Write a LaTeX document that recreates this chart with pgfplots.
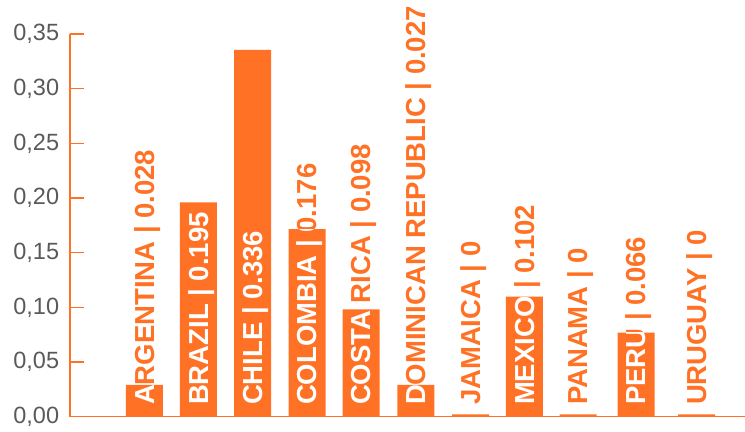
\documentclass[border=0pt]{standalone}
\usepackage{pgfplots}
\pgfplotsset{compat=1.18}
\usepackage{fontspec}
\setmainfont{Liberation Sans}
\definecolor{barorange}{HTML}{FF7225}
\definecolor{tickgrey}{HTML}{5A5A5A}
\newcommand\labfont{\fontsize{27.5bp}{30bp}\selectfont\bfseries}
% \barlabel{x}{bar value}{text}
\newcommand\barlabel[3]{%
  \node[rotate=90,anchor=base west,inner sep=0pt,text=barorange,font=\labfont]
    at ([xshift=9.85bp,yshift=11.5bp]axis cs:#1,0) {#3};
  \begin{scope}
    \clip ([xshift=-18.5bp]axis cs:#1,0) rectangle ([xshift=18.5bp]axis cs:#1,#2);
    \node[rotate=90,anchor=base west,inner sep=0pt,text=white,font=\labfont]
      at ([xshift=9.85bp,yshift=11.5bp]axis cs:#1,0) {#3};
  \end{scope}}
\begin{document}
\begin{tikzpicture}
\path[use as bounding box] (0,0) rectangle (745bp,432bp);
\begin{axis}[
  at={(70bp,15.3bp)}, anchor=south west,
  scale only axis, width=675bp, height=382.7bp,
  xmin=70, xmax=745, ymin=0, ymax=0.35,
  axis lines*=left,
  axis line style={barorange, line width=1.3bp},
  xtick=\empty,
  ytick={0,0.05,0.10,0.15,0.20,0.25,0.30,0.35},
  tick align=inside,
  major tick length=14bp,
  ytick style={barorange, line width=1.3bp},
  yticklabel style={font=\fontsize{23.5bp}{25bp}\selectfont, text=tickgrey, inner sep=0pt, xshift=-10.7bp},
  /pgf/number format/.cd, fixed, fixed zerofill, precision=2, use comma, assume math mode=true,
  /pgfplots/.cd,
  clip=false,
]
\addplot[ybar, bar width=37bp, fill=barorange, draw=none] coordinates {
  (144.3,0.029) (198.3,0.196) (252.5,0.3355) (307,0.1715) (361,0.0982)
  (415.8,0.029) (470.5,0.0022) (524.3,0.1098) (578,0.0022) (636,0.0769) (696.5,0.0022)
};
\barlabel{144.3}{0.029}{ARGENTINA | 0.028}
\barlabel{198.3}{0.196}{BRAZIL | 0.195}
\barlabel{252.5}{0.3355}{CHILE | 0.336}
\barlabel{307}{0.1715}{COLOMBIA | 0.176}
\barlabel{361}{0.0982}{COSTA RICA | 0.098}
\barlabel{415.8}{0.029}{DOMINICAN REPUBLIC | 0.027}
\barlabel{470.5}{0.0022}{JAMAICA | 0}
\barlabel{524.3}{0.1098}{MEXICO | 0.102}
\barlabel{578}{0.0022}{PANAMA | 0}
\barlabel{636}{0.0769}{PERU | 0.066}
\barlabel{696.5}{0.0022}{URUGUAY | 0}
\end{axis}
\end{tikzpicture}
\end{document}
